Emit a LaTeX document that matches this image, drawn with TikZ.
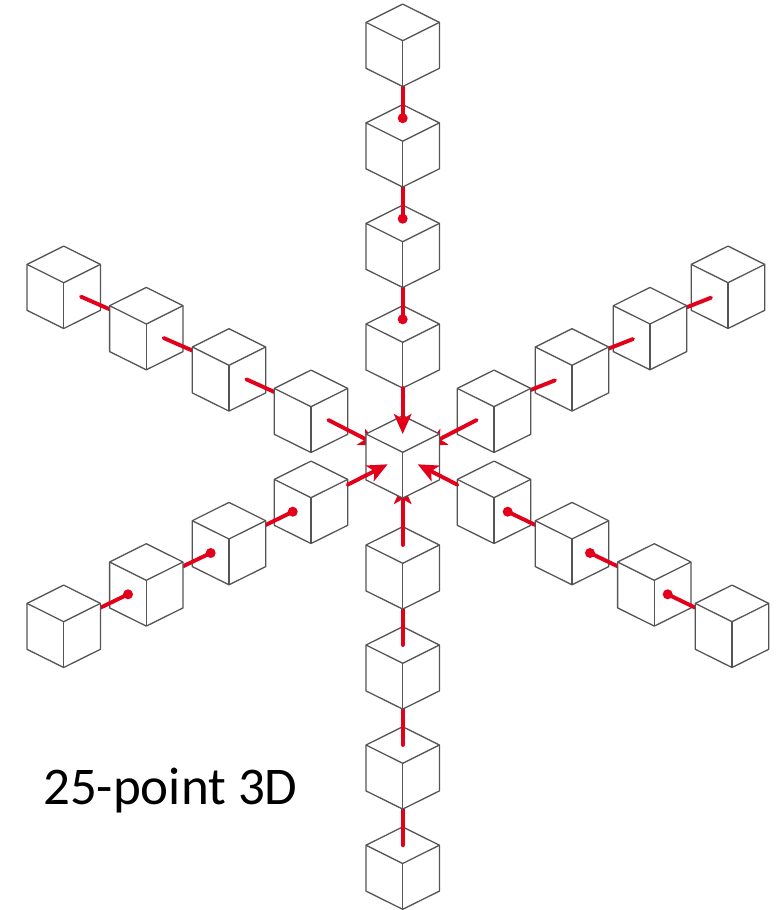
\documentclass[tikz,border=0pt]{standalone}
\usepackage{fontspec}
\setmainfont{Carlito}
\usetikzlibrary{arrows.meta}
\definecolor{cubeline}{HTML}{555555}
\definecolor{linkred}{HTML}{E2001A}
\tikzset{
  cubeedge/.style={draw=cubeline,line width=1.3pt,line join=round,fill=white},
  linkline/.style={draw=linkred,line width=3.9pt,line cap=round},
  linkarrow/.style={linkline,-{Stealth[length=20pt,width=17.5pt,inset=5pt]}},
  linkdot/.style={fill=linkred},
  caption/.style={inner sep=0pt,anchor=base west,font=\fontsize{53}{56}\selectfont}
}
\newcommand{\cubeat}[3]{%
  \coordinate (#1) at (#2,#3);
  \draw[cubeedge] ([shift={(0,-36.6)}]#1) -- ([shift={(36.7,-18.3)}]#1) -- ([shift={(36.7,27.6)}]#1)
    -- ([shift={(0,45.8)}]#1) -- ([shift={(-36.7,27.6)}]#1) -- ([shift={(-36.7,-18.3)}]#1) -- cycle;
  \draw[cubeedge,fill=none] ([shift={(-36.7,-18.3)}]#1) -- (#1) -- ([shift={(36.7,-18.3)}]#1);
  \draw[cubeedge,fill=none] (#1) -- ([shift={(0,45.8)}]#1);
}
% line ending in a round dot: from-coordinate, to-coordinate
\newcommand{\dotlink}[2]{%
  \draw[linkline] #1 -- #2;
  \fill[linkdot] #2 circle (5);
}
\begin{document}
\begin{tikzpicture}[x=1pt,y=-1pt]
\useasboundingbox (0,0) rectangle (782,910);
\coordinate (c) at (402.7,452.3);

% --- upper-left chain, outer to inner
\cubeat{ula}{63.7}{282.7}
\coordinate (ulb) at (146.3,324);
\draw[linkline] ([shift={(17.3,14)}]ula) -- ([shift={(-36.6,-14.7)}]ulb);
\cubeat{ulb}{146.3}{324}
\coordinate (ulc) at (229,365.3);
\draw[linkline] ([shift={(17.3,14)}]ulb) -- ([shift={(-36.6,-14.7)}]ulc);
\cubeat{ulc}{229}{365.3}
\coordinate (uld) at (311,406.7);
\draw[linkline] ([shift={(17.3,14)}]ulc) -- ([shift={(-36.6,-14.7)}]uld);
\cubeat{uld}{311}{406.7}
\draw[linkarrow] ([shift={(17.3,13.3)}]uld) -- ([shift={(-23.7,-6.3)}]c);

% --- upper-right chain, outer to inner
\cubeat{ura}{728}{282.7}
\coordinate (urb) at (650,324);
\draw[linkline] ([shift={(36.7,-16.7)}]urb) -- ([shift={(-17,15)}]ura);
\cubeat{urb}{650}{324}
\coordinate (urc) at (572,365.3);
\draw[linkline] ([shift={(36.7,-16.7)}]urc) -- ([shift={(-17,15)}]urb);
\cubeat{urc}{572}{365.3}
\coordinate (urd) at (494,406.7);
\draw[linkline] ([shift={(36.7,-16.7)}]urd) -- ([shift={(-17,15)}]urc);
\cubeat{urd}{494}{406.7}
\draw[linkarrow] ([shift={(-17.3,13.3)}]urd) -- ([shift={(23.7,-6.3)}]c);

% --- bottom chain, outer to inner
\cubeat{ba}{402.7}{863.5}
\coordinate (bb) at (402.7,763.3);
\draw[linkline] ([shift={(0,-18.3)}]ba) -- ([shift={(0,45.8)}]bb);
\cubeat{bb}{402.7}{763.3}
\coordinate (bc) at (402.7,663.3);
\draw[linkline] ([shift={(0,-18.3)}]bb) -- ([shift={(0,45.8)}]bc);
\cubeat{bc}{402.7}{663.3}
\coordinate (bd) at (402.7,563.3);
\draw[linkline] ([shift={(0,-18.3)}]bc) -- ([shift={(0,45.8)}]bd);
\cubeat{bd}{402.7}{563.3}
\draw[linkarrow] ([shift={(0,-18.3)}]bd) -- ([shift={(0,31.7)}]c);

% --- centre cube
\cubeat{c}{402.7}{452.3}

% --- top chain, inner to outer
\cubeat{ta}{402.7}{342.3}
\draw[linkarrow] ([shift={(0,45.8)}]ta) -- ([shift={(0,-18.3)}]c);
\coordinate (tb) at (402.7,241.7);
\dotlink{([shift={(0,45.8)}]tb)}{([shift={(0,-23)}]ta)}
\cubeat{tb}{402.7}{241.7}
\coordinate (tc) at (402.7,141.2);
\dotlink{([shift={(0,45.8)}]tc)}{([shift={(0,-23)}]tb)}
\cubeat{tc}{402.7}{141.2}
\coordinate (td) at (402.7,40.7);
\dotlink{([shift={(0,45.8)}]td)}{([shift={(0,-23)}]tc)}
\cubeat{td}{402.7}{40.7}

% --- lower-left chain, inner to outer
\cubeat{lla}{311}{497.7}
\draw[linkarrow] ([shift={(36.7,-13)}]lla) -- ([shift={(-15,12)}]c);
\coordinate (llb) at (229,539);
\dotlink{([shift={(36.7,-14)}]llb)}{([shift={(-18.3,14)}]lla)}
\cubeat{llb}{229}{539}
\coordinate (llc) at (146.3,580.3);
\dotlink{([shift={(36.7,-14)}]llc)}{([shift={(-18.3,14)}]llb)}
\cubeat{llc}{146.3}{580.3}
\coordinate (lld) at (63.7,621.7);
\dotlink{([shift={(36.7,-14)}]lld)}{([shift={(-18.3,14)}]llc)}
\cubeat{lld}{63.7}{621.7}

% --- lower-right chain, inner to outer
\cubeat{lra}{494}{497.7}
\draw[linkarrow] ([shift={(-36.7,-13)}]lra) -- ([shift={(15,12)}]c);
\coordinate (lrb) at (572,539);
\dotlink{([shift={(-36.7,-14)}]lrb)}{([shift={(13.7,14)}]lra)}
\cubeat{lrb}{572}{539}
\coordinate (lrc) at (654.3,580.3);
\dotlink{([shift={(-36.7,-14)}]lrc)}{([shift={(18,14)}]lrb)}
\cubeat{lrc}{654.3}{580.3}
\coordinate (lrd) at (732,621.7);
\dotlink{([shift={(-36.7,-14)}]lrd)}{([shift={(13.4,14)}]lrc)}
\cubeat{lrd}{732}{621.7}

\node[caption] (title) at (43,804) {25-point 3D};
\end{tikzpicture}
\end{document}
